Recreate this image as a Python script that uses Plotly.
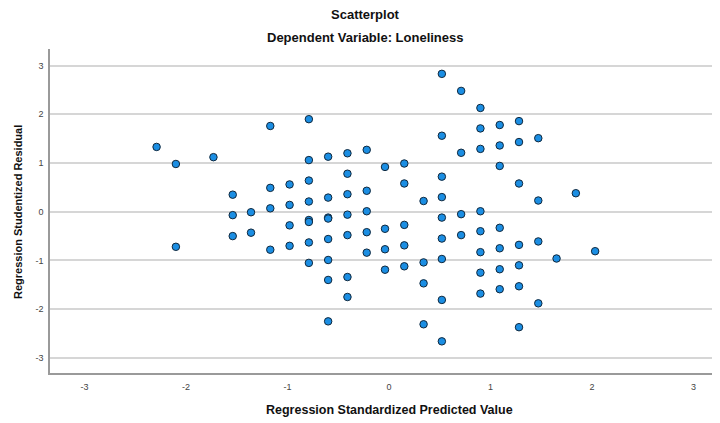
import plotly.graph_objects as go

# Regression standardized predicted value (x) and studentized residual (y)
pred_x = [
    -2.29, -2.10, -1.73, -1.54, -1.54, -1.36, -1.17, -1.17, -1.17,
    -0.98, -0.98, -0.79, -0.79, -0.79, -0.79, -0.79, -0.60, -0.60, -0.60,
    -0.41, -0.41, -0.41, -0.41, -0.22, -0.22, -0.22, -0.04, 0.15, 0.15,
    0.34, 0.52, 0.52, 0.52, 0.52, 0.52, 0.71, 0.71, 0.71, 0.90, 0.90, 0.90,
    0.90, 1.09, 1.09, 1.09, 1.28, 1.28, 1.28, 1.47, 1.47, 1.84,
    -2.10, -1.54, -1.36, -1.17, -0.98, -0.98, -0.79, -0.79, -0.79,
    -0.60, -0.60, -0.60, -0.60, -0.60, -0.41, -0.41, -0.41, -0.22, -0.22,
    -0.04, -0.04, -0.04, 0.15, 0.15, 0.15, 0.34, 0.34, 0.34, 0.52, 0.52,
    0.52, 0.52, 0.71, 0.90, 0.90, 0.90, 0.90, 1.09, 1.09, 1.09, 1.09,
    1.28, 1.28, 1.28, 1.28, 1.47, 1.47, 1.65, 2.03,
]
resid_y = [
    1.33, 0.98, 1.12, 0.35, -0.07, -0.01, 1.76, 0.49, 0.07,
    0.56, 0.14, 1.90, 1.06, 0.64, 0.21, -0.17, 1.13, 0.29, -0.12,
    1.20, 0.78, 0.36, -0.06, 1.27, 0.43, 0.01, 0.92, 0.99, 0.58,
    0.22, 2.83, 1.56, 0.72, 0.30, -0.12, 2.48, 1.21, -0.05, 2.13, 1.71, 1.29,
    0.01, 1.78, 1.36, 0.94, 1.86, 1.43, 0.58, 1.51, 0.23, 0.38,
    -0.72, -0.50, -0.43, -0.78, -0.28, -0.70, -0.63, -1.05, -0.21,
    -0.56, -0.99, -1.40, -2.25, -0.14, -0.48, -1.34, -1.75, -0.42, -0.84,
    -0.35, -0.77, -1.19, -0.27, -0.69, -1.12, -1.04, -1.47, -2.31, -0.55,
    -0.97, -1.81, -2.66, -0.48, -0.40, -0.83, -1.25, -1.68, -0.33, -0.75,
    -1.18, -1.59, -0.68, -1.10, -1.53, -2.37, -0.61, -1.88, -0.96, -0.81,
]

tick_vals = [-3, -2, -1, 0, 1, 2, 3]
tick_text = ["-3", "-2", "-1", "0", "1", "2", "3"]

chart_title = "Scatterplot"
chart_subtitle = "Dependent Variable: Loneliness"
x_title = "Regression Standardized Predicted Value"
y_title = "Regression Studentized Residual"

fig = go.Figure()
fig.add_trace(go.Scatter(
    x=pred_x, y=resid_y, mode="markers",
    marker=dict(size=7.5, color="#1b8ee3",
                line=dict(color="#10283d", width=1)),
    hoverinfo="x+y", showlegend=False,
))

font_main = "Liberation Sans, Arial, sans-serif"

# the page body adds an 8 px offset, so the figure is 712x415
fig.update_layout(
    width=712, height=415,
    margin=dict(l=42, r=0, t=41, b=50),
    paper_bgcolor="white", plot_bgcolor="white",
    font=dict(family=font_main, color="#222"),
    xaxis=dict(
        range=[-3.34, 3.26], tickvals=tick_vals, ticktext=tick_text,
        showgrid=False, zeroline=False, showline=True, linecolor="#9a9a9a",
        linewidth=1.5, ticks="", tickfont=dict(size=9, color="#444"),
        ticklabelstandoff=4,
    ),
    yaxis=dict(
        range=[-3.31, 3.34], tickvals=tick_vals, ticktext=tick_text,
        showgrid=True, gridcolor="#d6d6d6", gridwidth=1.5,
        zeroline=False, showline=True, linecolor="#9a9a9a",
        linewidth=1.5, ticks="", tickfont=dict(size=9, color="#444"),
        ticklabelstandoff=3,
    ),
    annotations=[
        dict(text="<b>%s</b>" % chart_title, xref="paper", yref="paper",
             x=0.4716, y=1.106, xanchor="center", yanchor="middle",
             showarrow=False, font=dict(size=13, color="#111")),
        dict(text="<b>%s</b>" % chart_subtitle, xref="paper", yref="paper",
             x=0.4716, y=1.034, xanchor="center", yanchor="middle",
             showarrow=False, font=dict(size=13, color="#111")),
        dict(text="<b>%s</b>" % x_title, xref="paper", yref="paper",
             x=0.507, y=-0.114, xanchor="center", yanchor="middle",
             showarrow=False, font=dict(size=12.5, color="#111")),
        dict(text="<b>%s</b>" % y_title, xref="paper", yref="paper",
             x=-0.0478, y=0.497, xanchor="center", yanchor="middle",
             textangle=-90, showarrow=False,
             font=dict(size=11, color="#111")),
    ],
)

fig.write_html("out.html")
